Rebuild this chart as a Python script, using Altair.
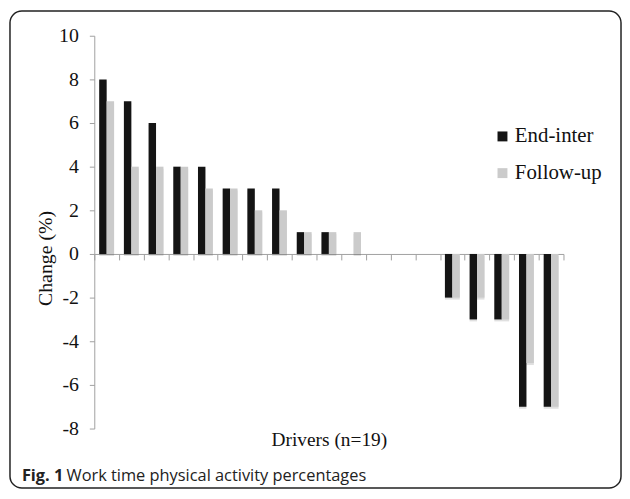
import altair as alt
import pandas as pd

drivers = list(range(1, 20))
end_inter = [8, 7, 6, 4, 4, 3, 3, 3, 1, 1, 0, 0, 0, 0, -2, -3, -3, -7, -7]
follow_up = [7, 4, 4, 4, 3, 3, 2, 2, 1, 1, 1, 0, 0, 0, -2, -2, -3, -5, -7]
series_names = ["End-inter", "Follow-up"]
series_colors = ["#141414", "#cbcbcb"]
y_ticks = [10, 8, 6, 4, 2, 0, -2, -4, -6, -8]

rows = []
for d, a, b in zip(drivers, end_inter, follow_up):
    rows.append({"driver": d, "series": series_names[0], "value": a})
    rows.append({"driver": d, "series": series_names[1], "value": b})
df = pd.DataFrame(rows)

W, H = 473, 396
SERIF = "Liberation Serif"

x_enc = alt.X("driver:O", sort=drivers,
              scale=alt.Scale(paddingInner=0, paddingOuter=0),
              axis=alt.Axis(labels=False, tickBand="extent", tickSize=6,
                            domainColor="#a0a0a0", tickColor="#a0a0a0",
                            offset=-176, title="Drivers (n=19)",
                            titleFont=SERIF, titleFontSize=19.5, titleFontWeight="normal",
                            titleColor="#111", titleY=187, titleBaseline="middle"))
xoff = alt.XOffset("series:N", sort=series_names,
                   scale=alt.Scale(paddingInner=0, paddingOuter=0.66))
y_enc = alt.Y("value:Q", scale=alt.Scale(domain=[-8, 10], nice=False),
              axis=alt.Axis(values=y_ticks, grid=False, tickSize=5, labelPadding=11,
                            labelExpr="datum.value + ''",
                            domainColor="#a0a0a0", tickColor="#a0a0a0",
                            labelFont=SERIF, labelFontSize=20, labelColor="#111",
                            title="Change (%)", titleFont=SERIF, titleFontSize=20,
                            titleFontWeight="normal", titleColor="#111",
                            titleAngle=-90, titleX=-49, titleY=224,
                            titleAlign="center", titleBaseline="middle"))

base = alt.Chart(df)

shadow = base.mark_bar(color="#000000", opacity=0.12, xOffset=2, yOffset=2).encode(
    x=x_enc, xOffset=xoff, y=y_enc)

bars = base.mark_bar().encode(
    x=x_enc, xOffset=xoff, y=y_enc,
    color=alt.Color("series:N", sort=series_names,
                    scale=alt.Scale(domain=series_names, range=series_colors),
                    legend=alt.Legend(title=None, orient="none", legendX=401, legendY=91,
                                      symbolType="square", symbolSize=100,
                                      symbolStrokeWidth=0, labelFont=SERIF,
                                      labelFontSize=21, labelColor="#111",
                                      rowPadding=15, padding=0, labelOffset=2)))

frame = alt.Chart(pd.DataFrame({"k": [0]})).mark_rect(
    fill=None, stroke="#222", strokeWidth=1.5, cornerRadius=12).encode(
    x=alt.value(-85), x2=alt.value(W + 58), y=alt.value(-25), y2=alt.value(H + 60))

cap1 = alt.Chart(pd.DataFrame({"t": ["Fig. 1"]})).mark_text(
    font="Open Sans", fontSize=16.5, fontWeight="bold", align="left", baseline="alphabetic",
    color="#222").encode(text="t:N", x=alt.value(-73), y=alt.value(H + 53))
cap2 = alt.Chart(pd.DataFrame({"t": ["Work time physical activity percentages"]})).mark_text(
    font="Open Sans", fontSize=16.5, align="left", baseline="alphabetic",
    color="#222").encode(text="t:N", x=alt.value(-28), y=alt.value(H + 53))

chart = alt.layer(shadow, bars, frame, cap1, cap2).properties(
    width=W, height=H,
    autosize=alt.AutoSizeParams(type="none"),
    padding={"left": 87, "top": 26, "right": 59, "bottom": 61},
).configure_view(stroke=None)

chart.save("out.html", embed_options={"renderer": "svg", "actions": False})
